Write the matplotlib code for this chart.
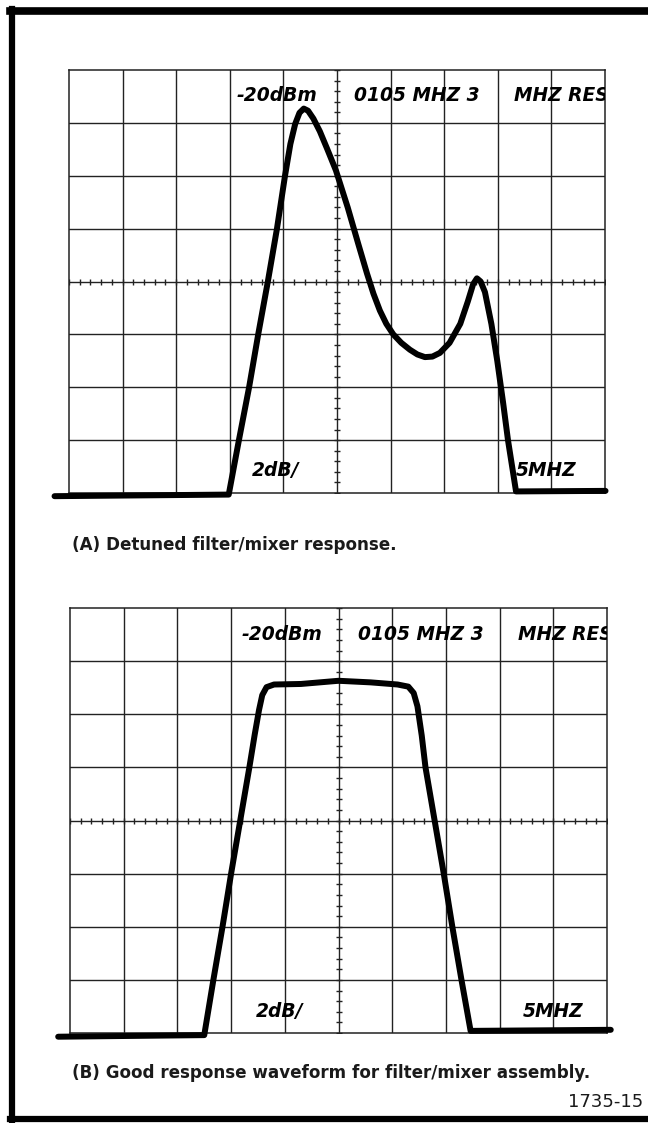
import numpy as np
import matplotlib
matplotlib.use("Agg")
import matplotlib.pyplot as plt
from matplotlib.lines import Line2D

# ---- data (graticule units: x 0..10 divisions, y 0..8 divisions) ----
a_x = [-0.27, 2.98, 3.17, 3.36, 3.53, 3.71, 3.88, 4.03, 4.13, 4.22, 4.3, 4.38, 4.46,
       4.56, 4.68, 4.82, 4.98, 5.2, 5.4, 5.56, 5.68, 5.8, 5.92, 6.05, 6.2, 6.36, 6.5,
       6.64, 6.78, 6.92, 7.1, 7.3, 7.44, 7.54, 7.61, 7.68, 7.76, 7.88, 7.99, 8.1,
       8.19, 8.34, 10.01]
a_y = [-0.06, -0.03, 1.0, 2.0, 3.0, 4.0, 5.0, 6.0, 6.6, 6.98, 7.19, 7.27, 7.23,
       7.08, 6.84, 6.5, 6.1, 5.4, 4.7, 4.15, 3.77, 3.45, 3.2, 3.0, 2.84, 2.71, 2.62,
       2.57, 2.58, 2.65, 2.84, 3.2, 3.62, 3.95, 4.06, 4.0, 3.8, 3.2, 2.5, 1.7,
       1.0, 0.03, 0.04]

b_x = [-0.22, 2.5, 2.67, 2.84, 3.0, 3.17, 3.34, 3.44, 3.52, 3.58, 3.66, 3.8, 4.3,
       5.0, 5.6, 6.1, 6.3, 6.4, 6.47, 6.55, 6.62, 6.79, 6.96, 7.12, 7.29, 7.46, 10.07]
b_y = [-0.07, -0.04, 1.0, 2.0, 3.0, 4.0, 5.0, 5.62, 6.08, 6.36, 6.51, 6.56, 6.57,
       6.63, 6.6, 6.56, 6.52, 6.4, 6.15, 5.6, 5.0, 4.0, 3.0, 2.0, 1.0, 0.04, 0.06]

screen_top = ["-20dBm", "0105 MHZ 3", "MHZ RES"]
screen_bottom = ["2dB/", "5MHZ"]
captions = ["(A) Detuned filter/mixer response.",
            "(B) Good response waveform for filter/mixer assembly."]
fig_id = "1735-15"

W, H = 648, 1123
fig = plt.figure(figsize=(W / 100, H / 100), dpi=100)
fig.patch.set_facecolor("white")


def fx(px):
    return px / W


def fy(py):
    return 1 - py / H


def make_panel(left, top, right, bottom, xs, ys, top_pos, bot_pos):
    ax = fig.add_axes([fx(left), fy(bottom), (right - left) / W, (bottom - top) / H])
    ax.set_xlim(0, 10)
    ax.set_ylim(0, 8)
    ax.set_xticks([])
    ax.set_yticks([])
    for s in ax.spines.values():
        s.set_linewidth(1.1)
        s.set_color("#222222")
    for gx in range(1, 10):
        ax.axvline(gx, color="#222222", lw=1.0, zorder=1)
    for gy in range(1, 8):
        ax.axhline(gy, color="#222222", lw=1.0, zorder=1)
    # minor ticks on the centre crosshair
    mt = np.arange(0, 10.01, 0.2)
    ax.plot(mt, np.full_like(mt, 4.0), ls="none", marker="|", ms=5, mew=1.0,
            color="#222222", zorder=1)
    mt2 = np.arange(0, 8.01, 0.2)
    ax.plot(np.full_like(mt2, 5.0), mt2, ls="none", marker="_", ms=5, mew=1.0,
            color="#222222", zorder=1)
    # trace
    ax.plot(xs, ys, color="black", lw=4.3, solid_capstyle="round",
            solid_joinstyle="round", clip_on=False, zorder=3)
    tfont = dict(family="DejaVu Sans", weight="bold", style="italic", size=13.4,
                 color="black")
    for txt, (px, py) in zip(screen_top, top_pos):
        ax.text(px, py, txt, ha="left", va="center", clip_on=True, zorder=4, **tfont)
    for txt, (px, py) in zip(screen_bottom, bot_pos):
        ax.text(px, py, txt, ha="left", va="center", zorder=4, **tfont)
    return ax


make_panel(69, 70, 605, 493, a_x, a_y,
           [(3.12, 7.52), (5.31, 7.52), (8.3, 7.52)],
           [(3.41, 0.42), (8.34, 0.42)])
make_panel(70, 608, 607, 1033, b_x, b_y,
           [(3.19, 7.5), (5.37, 7.5), (8.34, 7.5)],
           [(3.46, 0.40), (8.43, 0.40)])

cfont = dict(family="DejaVu Sans", weight="bold", size=12.1, color="#1a1a1a")
fig.text(fx(72), fy(545), captions[0], ha="left", va="center", **cfont)
fig.text(fx(72), fy(1073), captions[1], ha="left", va="center", **cfont)
fig.text(fx(643), fy(1102), fig_id, ha="right", va="center",
         family="DejaVu Sans", size=13, color="#1a1a1a")

# outer frame (left, top, bottom; right side cut off)
fig.add_artist(Line2D([fx(12), fx(12)], [fy(9), fy(1122)], transform=fig.transFigure,
                      color="black", lw=4.5))
fig.add_artist(Line2D([fx(10), fx(648)], [fy(11), fy(11)], transform=fig.transFigure,
                      color="black", lw=5.5))
fig.add_artist(Line2D([fx(10), fx(648)], [fy(1119), fy(1119)], transform=fig.transFigure,
                      color="black", lw=4.5))

fig.savefig("out.png", dpi=100, facecolor="white")
